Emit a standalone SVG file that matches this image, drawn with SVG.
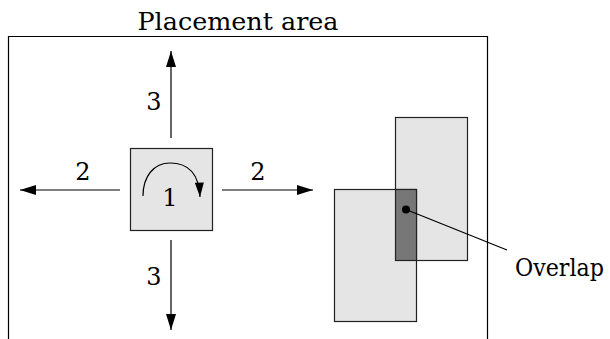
<svg xmlns="http://www.w3.org/2000/svg" width="610" height="339" viewBox="0 0 610 339">
<defs>
<style>
.t{font-family:'DejaVu Serif','Liberation Serif',serif;font-size:24px;fill:#000}
.c{stroke:#000;stroke-width:1.2;fill:none}
.box{stroke:#222;stroke-width:1.2}
</style>
<marker id="ah" viewBox="0 0 16 10" refX="16" refY="5" markerWidth="16" markerHeight="10" markerUnits="userSpaceOnUse" orient="auto">
<path d="M0,0 L16,5 L0,10 Z" fill="#000"/>
</marker>
<marker id="ah2" viewBox="0 0 16 10" refX="16" refY="5" markerWidth="16" markerHeight="9" markerUnits="userSpaceOnUse" orient="auto">
<path d="M0,0 L16,5 L0,10 Z" fill="#000"/>
</marker>
</defs>
<rect width="610" height="339" fill="#fff"/>
<g id="placement-area">
<path d="M8.5,339 V36.5 H487.5 V339" fill="none" stroke="#000" stroke-width="1.2"/>
<text class="t" x="238" y="30" text-anchor="middle" textLength="201" lengthAdjust="spacingAndGlyphs">Placement area</text>
</g>
<g id="cell1">
<rect x="130.5" y="148.5" width="82" height="82" fill="#e5e5e5" class="box"/>
<path d="M143,196 C143,176 154,163 170,163 C188,163 199,174 200,197" class="c" stroke-width="1" marker-end="url(#ah2)"/>
<text class="t" x="170" y="206" text-anchor="middle">1</text>
</g>
<g id="rectA">
<rect x="395.5" y="117.5" width="72" height="143" fill="#e5e5e5" class="box"/>
</g>
<g id="rectB">
<rect x="334.5" y="189.5" width="82" height="132" fill="#e5e5e5" class="box"/>
</g>
<g id="overlap">
<rect x="395.5" y="189.5" width="21" height="71" fill="#777" class="box"/>
<circle cx="406" cy="209.5" r="4" fill="#000"/>
<text class="t" x="515" y="276" textLength="89" lengthAdjust="spacingAndGlyphs">Overlap</text>
</g>
<g id="connectors">
<line x1="171" y1="138" x2="171" y2="51" class="c" marker-end="url(#ah)"/>
<line x1="171" y1="240" x2="171" y2="330" class="c" marker-end="url(#ah)"/>
<line x1="120" y1="190" x2="20" y2="190" class="c" marker-end="url(#ah)"/>
<line x1="222" y1="190" x2="313" y2="190" class="c" marker-end="url(#ah)"/>
<line x1="406" y1="209.5" x2="507" y2="250" class="c"/>
</g>
<g id="labels">
<text class="t" x="154" y="110" text-anchor="middle">3</text>
<text class="t" x="154" y="285" text-anchor="middle">3</text>
<text class="t" x="83" y="180" text-anchor="middle">2</text>
<text class="t" x="258" y="180" text-anchor="middle">2</text>
</g>
</svg>
